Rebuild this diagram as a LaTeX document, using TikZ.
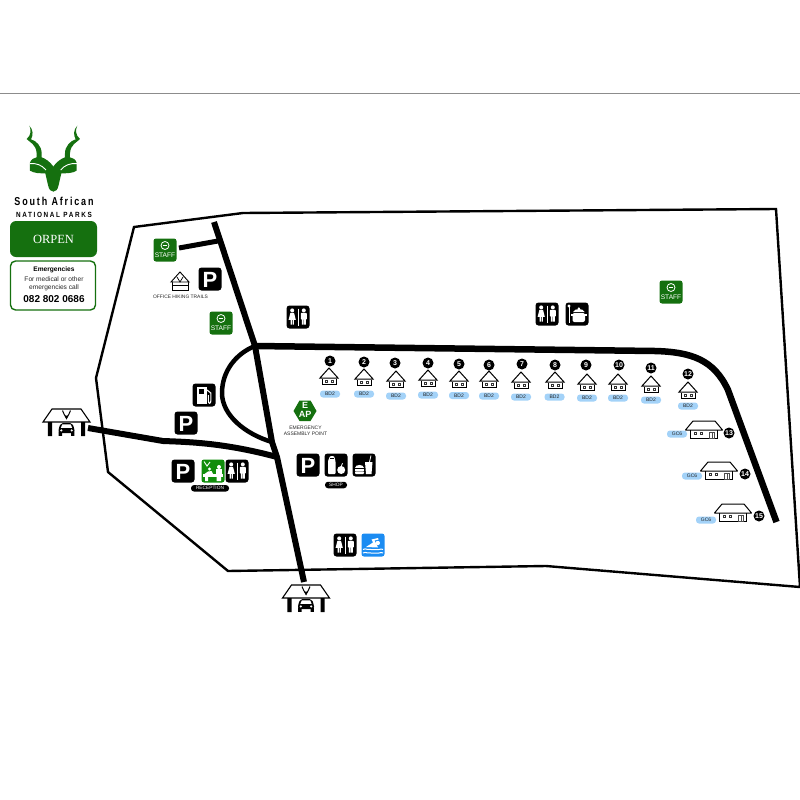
\documentclass[tikz,border=0pt]{standalone}
\usepackage{fontspec}
\setmainfont{Liberation Sans}
\newfontfamily\logofont[LetterSpace=16,FakeStretch=0.78]{Liberation Sans}
\newfontfamily\logosubfont[LetterSpace=22,FakeStretch=0.85]{Liberation Sans}
\newfontfamily\parkfont{Liberation Serif}
\definecolor{sangreen}{HTML}{15700F}
\definecolor{pillblue}{HTML}{A3D2F8}
\definecolor{swimblue}{HTML}{1B8CF2}
\tikzset{
  x=1pt,y=-1pt,
  road/.style={draw=black,line width=#1,line cap=butt,line join=round},
  road/.default=6pt,
  edgeline/.style={draw=black,line width=2.4pt,line join=miter},
  pill/.style={fill=pillblue,rounded corners=3pt,minimum width=20pt,minimum height=7pt,inner sep=0pt,font=\fontsize{5}{5}\selectfont,text=black!85},
  darkpill/.style={fill=black,rounded corners=3pt,minimum height=6.5pt,inner sep=0pt,font=\fontsize{4.8}{5}\selectfont,text=white},
  numdot/.style={circle,fill=black,minimum size=11pt,inner sep=0pt,text=white,font=\bfseries\fontsize{7}{7}\selectfont},
  caption/.style={font=\fontsize{5}{6}\selectfont,text=black!85,align=center,inner sep=0pt},
  pics/blackbox/.style={code={\fill[black,rounded corners=3pt] (-11.5,-11.5) rectangle (11.5,11.5);}},
  pics/parking/.style={code={
    \pic {blackbox};
    \node[text=white,font=\bfseries\fontsize{22}{22}\selectfont,inner sep=0pt] (-p) at (0,0.5) {P};}},
  pics/person/.style={code={
    \fill[white] (0,-6.6) circle (2pt);
    \fill[white,rounded corners=.8pt] (-3,-4.2) rectangle (3,2.5);
    \fill[white] (-2,1) rectangle (-.25,7.5) (.25,1) rectangle (2,7.5);}},
  pics/lady/.style={code={
    \fill[white] (0,-6.6) circle (2pt);
    \fill[white] (-1.8,-4.2) -- (1.8,-4.2) -- (3.6,2.8) -- (-3.6,2.8) -- cycle;
    \fill[white] (-1.7,2) rectangle (-.4,7.5) (.4,2) rectangle (1.7,7.5);}},
  pics/toilets/.style={code={
    \pic {blackbox};
    \pic at (-5.8,0) {lady};
    \pic at (5.8,0) {person};
    \draw[white,line width=.7pt] (0,-8.5) -- (0,8.5);}},
  pics/staffsign/.style={code={
    \fill[sangreen,rounded corners=2.5pt] (-11.5,-11.5) rectangle (11.5,11.5);
    \draw[white,line width=.8pt] (0,-4.5) circle (4pt);
    \draw[white,line width=.9pt] (-2.4,-4.5) -- (2.4,-4.5);
    \node[text=white,font=\fontsize{6.6}{7}\selectfont,inner sep=0pt] (-t) at (0,5.5) {STAFF};}},
  pics/hut/.style={code={
    \draw[black,line width=.9pt] (-7,1) -- (-7,6.5) -- (7,6.5) -- (7,1);
    \draw[black,line width=1pt,line join=miter] (-9,0) -- (0,-10) -- (9,0) -- cycle;
    \draw[black!80,line width=.5pt] (-3.6,2.5) rectangle (-1.4,4.5) (2.4,2.5) rectangle (4.6,4.5);}},
  pics/chalet/.style={code={
    \draw[black,line width=1pt] (-13.5,0) -- (-13.5,8) -- (13.5,8) -- (13.5,0);
    \draw[black,line width=1pt,line join=round] (-18.5,0) -- (-11,-9) -- (11,-9) -- (18.5,0) -- cycle;
    \draw[black!80,line width=.5pt] (-9.5,2.5) rectangle (-7.5,4.5) (-3.5,2.5) rectangle (-1.5,4.5);
    \draw[black!70,line width=.6pt] (5,2) rectangle (8,8) (8,2) rectangle (10,8);}},
  pics/carglyph/.style={code={
    \fill[black,rounded corners=2pt] (-8,-1.5) -- (-5.5,-7) -- (5.5,-7) -- (8,-1.5) -- (8,3) -- (-8,3) -- cycle;
    \fill[white] (-4.2,-5.6) -- (4.2,-5.6) -- (5.6,-2.2) -- (-5.6,-2.2) -- cycle;
    \fill[white] (-5.2,.4) circle (1.2pt) (5.2,.4) circle (1.2pt);
    \fill[black] (-7.8,2) rectangle (-4.5,5.8) (4.5,2) rectangle (7.8,5.8);}},
  pics/gate/.style={code={
    \draw[black,line width=1.1pt,line join=miter,fill=white] (-14.5,0) -- (14.5,0) -- (23.5,13) -- (-23.5,13) -- cycle;
    \fill[black] (-18.7,13) rectangle (-14.5,27) (14.5,13) rectangle (18.7,27);
    \draw[black,line width=1pt] (-4,1.5) .. controls (-4,5) and (-1,5.5) .. (0,9) .. controls (1,5.5) and (4,5) .. (4,1.5);
    \fill[black] (0,10.5) -- (-2,6.5) -- (2,6.5) -- cycle;
    \pic at (0,21) {carglyph};}}
}
\begin{document}
\begin{tikzpicture}
\useasboundingbox (0,0) rectangle (800,800);
\coordinate (ruleL) at (0,93.5);
\coordinate (ruleR) at (800,93.5);
\draw[black!45,line width=.9pt] (ruleL) -- (ruleR);

% ---- park boundary
\draw[edgeline] (134,227) -- (243,213) -- (776,209) -- (800,587) -- (546,566) -- (228,571) -- (108,472) -- (96,378) -- cycle;

% ---- logo
\begin{scope}[shift={(20,120)},x=0.3333pt,y=-0.3333pt]
  \foreach \sx in {1,-1}{
  \begin{scope}[shift={(100,0)},xscale=\sx,shift={(-100,0)}]
    \fill[sangreen] (28,17) .. controls (34,30) and (34,45) .. (20,57)
      .. controls (30,68) and (48,72) .. (50,100) -- (50,112)
      .. controls (42,113) and (33,118) .. (30,128) -- (30,152)
      .. controls (42,160) and (60,160) .. (76,160)
      -- (84,195) .. controls (87,210) and (93,215) .. (100.5,215)
      -- (100.5,140) .. controls (90,125) and (75,115) .. (65,112) -- (65,100)
      .. controls (65,78) and (48,62) .. (33,58)
      .. controls (40,45) and (40,30) .. (28,17) -- cycle;
    \draw[white,line width=.9pt] (29,131) .. controls (50,129) and (65,135) .. (78,150);
  \end{scope}}
\end{scope}
\node[inner sep=0pt,font=\logofont\bfseries\fontsize{11.5}{11.5}\selectfont] (saTitle) at (54,201) {South African};
\node[inner sep=0pt,font=\logosubfont\bfseries\fontsize{7.5}{7.5}\selectfont] (saSub) at (54,215) {NATIONAL PARKS};
\node[fill=sangreen,rounded corners=6pt,minimum width=87pt,minimum height=36pt,inner sep=0pt,text=white,font=\parkfont\fontsize{12.5}{12.5}\selectfont] (parkName) at (53.5,239) {ORPEN};
\node[draw=sangreen,line width=1.4pt,fill=white,rounded corners=5pt,minimum width=85pt,minimum height=49pt,inner sep=0pt] (emBox) at (53,285.5) {};
\node[inner sep=0pt,font=\bfseries\fontsize{6.6}{7}\selectfont] (emHead) at (54,270) {Emergencies};
\node[inner sep=0pt,font=\fontsize{6.6}{7}\selectfont,text=black!85] (emLine1) at (54,279) {For medical or other};
\node[inner sep=0pt,font=\fontsize{6.6}{7}\selectfont,text=black!85] (emLine2) at (54,288) {emergencies call};
\node[inner sep=0pt,font=\bfseries\fontsize{10}{10}\selectfont] (emNum) at (54,299) {082 802 0686};

% ---- road junctions
\coordinate (mainTop) at (214,222);
\coordinate (jTop) at (255,346);
\coordinate (jGate) at (277,457);
\coordinate (jLoop) at (272,442);
\coordinate (mainEnd) at (304,582);
\coordinate (spurA) at (179,248);
\coordinate (spurB) at (218,241);
\coordinate (bend1) at (655,351);
\coordinate (bend2) at (728,390);
\coordinate (roadEnd) at (776.5,522);
\coordinate (gateRoad) at (88,428);
\coordinate (gateRoadM) at (163,441);

\draw[road=6pt] (mainTop) -- (jTop) -- (jLoop) -- (jGate) -- (mainEnd);
\draw[road=5pt] (spurA) -- (spurB);
\draw[road=6.5pt] (jTop) -- (bend1) .. controls (692,352) and (714,360) .. (bend2) -- (roadEnd);
\draw[road=4.5pt] (jTop) .. controls (235,354) and (222,372) .. (222,393) .. controls (222,415) and (245,434) .. (jLoop);
\draw[road=6pt] (gateRoad) -- (gateRoadM) .. controls (190,442) and (225,443) .. (jGate);

% ---- gates
\pic (gateW) at (66.5,409) {gate};
\pic (gateS) at (306,585) {gate};

% ---- staff signs
\pic (staff1) at (165,250) {staffsign};
\pic (staff2) at (221,323) {staffsign};
\pic (staff3) at (671,292) {staffsign};

% ---- office
\begin{scope}[shift={(180,281)}]
  \draw[black,line width=.8pt] (-8,1) -- (-8,9) -- (8,9) -- (8,1);
  \draw[black,line width=.9pt,fill=white] (-9,1) -- (0,-9) -- (9,1) -- cycle;
  \draw[black,line width=.7pt] (-8,4) -- (8,4);
  \draw[black,line width=.7pt] (-3,-4) .. controls (-2,-1) .. (0,1) .. controls (2,-1) .. (3,-4);
\end{scope}
\node[caption,font=\fontsize{4.9}{6}\selectfont] (officeLabel) at (180.5,296.5) {OFFICE HIKING TRAILS};

% ---- parking and toilets
\pic (pOffice) at (210,279) {parking};
\pic (pFuel) at (186,423) {parking};
\pic (pRec) at (183,471) {parking};
\pic (pShop) at (308,465) {parking};
\pic (wcA) at (298,317) {toilets};
\pic (wcB) at (547,314) {toilets};
\pic (wcC) at (237,471) {toilets};
\pic (wcD) at (345,545) {toilets};

% ---- fuel
\begin{scope}[shift={(204,395)}]
  \pic {blackbox};
  \fill[white] (-7,-8) rectangle (3,9);
  \fill[black] (-5,-6) rectangle (0,-1);
  \draw[white,line width=1.1pt] (3,-5) -- (6.8,-2) -- (6.8,6) .. controls (6.8,9) and (4.4,9) .. (4.4,6) -- (4.4,0);
\end{scope}

% ---- pot
\begin{scope}[shift={(577,314)}]
  \pic {blackbox};
  \fill[white] (-8,-8) circle (1.7pt);
  \draw[white,line width=1pt] (-8,-7) -- (-8,9);
  \fill[white,rounded corners=2pt] (-4.5,-1) rectangle (8,8);
  \fill[white] (-6,0) rectangle (9.5,1.5);
  \fill[white] (-4,-2) .. controls (-2,-6) and (6,-6) .. (7.5,-2) -- cycle;
  \fill[white] (1.8,-5.5) circle (1.2pt);
\end{scope}

% ---- reception
\begin{scope}[shift={(213,471)}]
  \fill[sangreen!80!green,rounded corners=2.5pt] (-11.5,-11.5) rectangle (11.5,11.5);
  \draw[white,line width=.9pt] (-9,-9.5) .. controls (-8,-6.5) .. (-6,-5) .. controls (-5,-6.5) .. (-3,-9);
  \fill[white] (-3.5,-2) circle (1.6pt) (6,-4) circle (2pt);
  \fill[white] (-8.5,3) -- (-5,.5) -- (-1.5,0) -- (0,3) -- cycle;
  \fill[white] (3,-2) rectangle (9,3);
  \fill[white] (-10,3) rectangle (10,5.5);
  \fill[white] (-8,5.5) rectangle (-5,10) (3.5,5.5) rectangle (8,10);
\end{scope}
\node[darkpill,minimum width=38pt] (recLabel) at (210,488.3) {RECEPTION};

% ---- shop
\begin{scope}[shift={(336,465)}]
  \pic {blackbox};
  \fill[white,rounded corners=1pt] (-8,-4) -- (-6,-9) -- (-2,-9) -- (-0.5,-4) -- (-0.5,9) -- (-8,9) -- cycle;
  \fill[black] (-6.5,-7) rectangle (-2,-5.8);
  \fill[white] (5.2,5) circle (4pt);
  \draw[white,line width=.8pt] (5.2,1.5) -- (6.5,-1.8);
\end{scope}
\node[darkpill,minimum width=22pt] (shopLabel) at (336,485) {SHOP};

% ---- food
\begin{scope}[shift={(364,465)}]
  \pic {blackbox};
  \fill[white] (-9,3) .. controls (-9,-1) and (0,-1) .. (0,3) -- cycle;
  \fill[white] (-9,4) rectangle (0,5.5);
  \fill[white,rounded corners=.8pt] (-9,6.3) rectangle (0,9);
  \fill[white] (1,-3) -- (8.5,-3) -- (7.5,9) -- (2,9) -- cycle;
  \draw[white,line width=.8pt] (5.5,-3) -- (7,-9.5);
\end{scope}

% ---- swimming
\begin{scope}[shift={(373,545)}]
  \fill[swimblue,rounded corners=2.5pt] (-11.5,-11.5) rectangle (11.5,11.5);
  \fill[white] (4.8,-2) circle (2.2pt);
  \fill[white] (-7,2) -- (0,-2.5) -- (-1.5,-5.5) -- (5,-7) -- (5.5,-5.5) -- (1.5,-4.5) -- (5,2.5) -- cycle;
  \draw[white,line width=1pt] (-10,4.5) .. controls (-7,2.5) and (-5,6) .. (-2,4.5) .. controls (1,3) and (3,6) .. (6,4.5) .. controls (7.5,3.8) and (9,4) .. (10,4.5);
  \draw[white,line width=1pt] (-10,8) .. controls (-7,6) and (-5,9.5) .. (-2,8) .. controls (1,6.5) and (3,9.5) .. (6,8) .. controls (7.5,7.3) and (9,7.5) .. (10,8);
\end{scope}

% ---- EAP
\fill[sangreen] (293.5,411) -- (299.5,400.5) -- (310.5,400.5) -- (316.5,411) -- (310.5,421) -- (299.5,421) -- cycle;
\node[text=white,font=\bfseries\fontsize{9}{9}\selectfont,inner sep=0pt] (eapE) at (305,405.5) {E};
\node[text=white,font=\bfseries\fontsize{9}{9}\selectfont,inner sep=0pt] (eapAP) at (305,414.5) {AP};
\node[caption] (eapLabel) at (305.5,430.5) {EMERGENCY\\[0.3pt]ASSEMBLY POINT};

% ---- huts
\foreach \n/\nx/\ny/\hx/\hy/\lx/\ly in {
  1/330/361/329/378/330/394,
  2/364/362/364/379/364/394,
  3/395/363/396/381/396/396,
  4/428/363/428/380/428/395,
  5/459/364/459/381/459/395.5,
  6/489/365/489/381/489/396,
  7/522/364/521/382/521/397,
  8/555/365/555/382/554.5/397,
  9/586/365/587/384/587/398,
  10/619/365/618/384/618/398,
  11/651/368/651/386/651/400,
  12/688/374/688/392/688/406}{
  \pic (hut\n) at (\hx,\hy) {hut};
  \node[numdot] (num\n) at (\nx,\ny) {\n};
  \node[pill] (lab\n) at (\lx,\ly) {BD2};
}
\foreach \n/\nx/\ny/\hx/\hy/\lx/\ly in {
  13/729/433/704/430/677/434,
  14/745/474/719/471/692/476,
  15/759/516/733/513/706/520}{
  \pic (chalet\n) at (\hx,\hy) {chalet};
  \node[numdot] (num\n) at (\nx,\ny) {\n};
  \node[pill] (lab\n) at (\lx,\ly) {GC6};
}
\end{tikzpicture}
\end{document}
